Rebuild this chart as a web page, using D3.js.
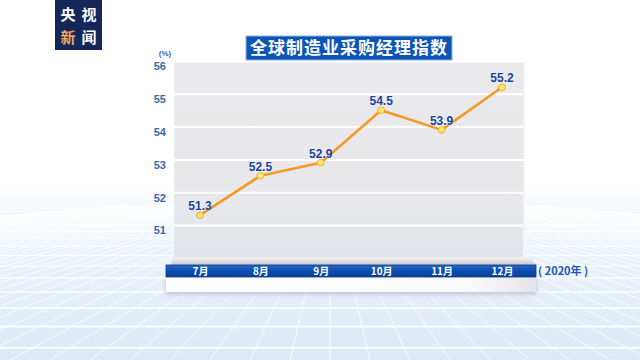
<!DOCTYPE html>
<html>
<head>
<meta charset="utf-8">
<script src="https://cdn.jsdelivr.net/npm/d3@7"></script>
<style>
  body { margin: 0; background: #fff; }
  svg { display: block; }
</style>
</head>
<body>
<div id="chart"></div>
<script>
// Global manufacturing PMI, Jul - Dec 2020
const months = ['7月', '8月', '9月', '10月', '11月', '12月'];
const pmi = [51.3, 52.5, 52.9, 54.5, 53.9, 55.2];
const yTicks = [51, 52, 53, 54, 55, 56];

const W = 640, H = 360;
const cnFont = '"Noto Sans CJK SC", "Noto Sans", sans-serif';
const numFont = '"Liberation Sans", Arial, sans-serif';

const svg = d3.select('#chart').append('svg')
    .attr('width', W)
    .attr('height', H);

const defs = svg.append('defs');

// floor gradient
const floorGrad = defs.append('linearGradient').attr('id', 'floor')
    .attr('x1', 0).attr('y1', 0).attr('x2', 0).attr('y2', 1);
floorGrad.append('stop').attr('offset', '0%').attr('stop-color', '#ffffff');
floorGrad.append('stop').attr('offset', '25%').attr('stop-color', '#eef4fb');
floorGrad.append('stop').attr('offset', '100%').attr('stop-color', '#dde9f6');

// panel gradient
const panelGrad = defs.append('linearGradient').attr('id', 'panel')
    .attr('x1', 0).attr('y1', 0).attr('x2', 0).attr('y2', 1);
panelGrad.append('stop').attr('offset', '0%').attr('stop-color', '#eae9ec');
panelGrad.append('stop').attr('offset', '70%').attr('stop-color', '#e8e8eb');
panelGrad.append('stop').attr('offset', '100%').attr('stop-color', '#dfe4ea');

const slabGrad = defs.append('linearGradient').attr('id', 'slab')
    .attr('x1', 0).attr('y1', 0).attr('x2', 0).attr('y2', 1);
slabGrad.append('stop').attr('offset', '0%').attr('stop-color', '#f4f4f4');
slabGrad.append('stop').attr('offset', '100%').attr('stop-color', '#c9c9cc');

const barGrad = defs.append('linearGradient').attr('id', 'bar')
    .attr('x1', 0).attr('y1', 0).attr('x2', 0).attr('y2', 1);
barGrad.append('stop').attr('offset', '0%').attr('stop-color', '#2466c4');
barGrad.append('stop').attr('offset', '50%').attr('stop-color', '#0b4eb0');
barGrad.append('stop').attr('offset', '100%').attr('stop-color', '#0a4198');

const baseGrad = defs.append('linearGradient').attr('id', 'base')
    .attr('x1', 0).attr('y1', 0).attr('x2', 1).attr('y2', 0);
baseGrad.append('stop').attr('offset', '0%').attr('stop-color', '#ffffff');
baseGrad.append('stop').attr('offset', '80%').attr('stop-color', '#fbfbfc');
baseGrad.append('stop').attr('offset', '100%').attr('stop-color', '#e6e6ea');

const shadow = defs.append('filter').attr('id', 'shadow')
    .attr('x', '-10%').attr('y', '-10%').attr('width', '120%').attr('height', '160%');
shadow.append('feDropShadow').attr('dx', 0).attr('dy', 2).attr('stdDeviation', 2)
    .attr('flood-color', '#8090a0').attr('flood-opacity', 0.5);

// background floor with perspective grid
svg.append('rect').attr('x', 0).attr('y', 180).attr('width', W).attr('height', H - 180)
    .attr('fill', 'url(#floor)');

const floor = svg.append('g').attr('stroke', '#ffffff').attr('fill', 'none');
const horizon = 195, vpX = 330;
for (let i = -50; i <= 50; i++) {
    const xb = vpX + i * 40;
    floor.append('line')
        .attr('x1', vpX + (xb - vpX) * 0.1).attr('y1', horizon + 10)
        .attr('x2', xb).attr('y2', H)
        .attr('stroke-width', 1).attr('stroke-opacity', 0.8);
}
let yy = 208, step = 3;
while (yy < H) {
    floor.append('line').attr('x1', 0).attr('x2', W).attr('y1', yy).attr('y2', yy)
        .attr('stroke-width', 0.8 + (yy - 200) / 110).attr('stroke-opacity', 0.85);
    step *= 1.15;
    yy += step;
}

// scales
const x = d3.scalePoint().domain(months).range([200, 502]);
const y = d3.scaleLinear().domain([51, 56]).range([225, 61]);

const panelL = 174, panelR = 525;
const panelTop = y(56), panelBot = 258;

// panel
svg.append('rect')
    .attr('x', panelL).attr('y', panelTop)
    .attr('width', panelR - panelL).attr('height', panelBot - panelTop)
    .attr('fill', 'url(#panel)');
svg.append('rect')
    .attr('x', panelR - 2).attr('y', panelTop)
    .attr('width', 2).attr('height', panelBot - panelTop)
    .attr('fill', '#f4f4f6');

// grid lines
svg.append('g')
    .attr('transform', `translate(${panelL},0)`)
    .call(d3.axisLeft(y).tickValues(yTicks).tickSize(-(panelR - panelL - 2)).tickFormat(''))
    .call(g => g.select('.domain').remove())
    .call(g => g.selectAll('line').attr('stroke', '#ffffff').attr('stroke-width', 2));

// y axis labels
svg.append('g')
    .attr('transform', `translate(${panelL},0)`)
    .call(d3.axisLeft(y).tickValues(yTicks).tickSize(0).tickPadding(8).tickFormat(d3.format('d')))
    .call(g => g.select('.domain').remove())
    .call(g => g.selectAll('text')
        .attr('dy', '0.8em')
        .attr('fill', '#3b68b0')
        .style('font-family', numFont)
        .style('font-weight', 'bold')
        .style('font-size', '11px'));

svg.append('text')
    .attr('x', 165).attr('y', 56)
    .attr('text-anchor', 'middle')
    .attr('fill', '#3b68b0')
    .style('font-family', numFont)
    .style('font-weight', 'bold')
    .style('font-size', '8px')
    .text('(%)');

// base: grey slab, blue axis bar, white block
svg.append('path')
    .attr('d', `M170,265 L175,257 L530,257 L536,265 Z`)
    .attr('fill', 'url(#slab)');
svg.append('rect')
    .attr('x', 166).attr('y', 277).attr('width', 370).attr('height', 15)
    .attr('fill', 'url(#base)')
    .attr('filter', 'url(#shadow)');
svg.append('rect')
    .attr('x', 166).attr('y', 265).attr('width', 370).attr('height', 12)
    .attr('fill', 'url(#bar)')
    .attr('stroke', '#0a3a86').attr('stroke-width', 0.8);

svg.append('g')
    .attr('transform', 'translate(0,271)')
    .call(d3.axisBottom(x).tickSize(0).tickPadding(0))
    .call(g => g.select('.domain').remove())
    .call(g => g.selectAll('text')
        .attr('dy', '0.35em')
        .attr('fill', '#ffffff')
        .style('font-family', cnFont)
        .style('font-weight', 'bold')
        .style('font-size', '10px'));

svg.append('text')
    .attr('x', 538).attr('y', 275)
    .attr('fill', '#1f5cb0')
    .style('font-family', cnFont)
    .style('font-weight', 'bold')
    .style('font-size', '11px')
    .text('( 2020年 )');

// line
const data = months.map((m, i) => ({ m, v: pmi[i] }));
svg.append('path')
    .datum(data)
    .attr('fill', 'none')
    .attr('stroke', '#f39a22')
    .attr('stroke-width', 2.6)
    .attr('stroke-linejoin', 'round')
    .attr('d', d3.line().x(d => x(d.m)).y(d => y(d.v)));

svg.selectAll('.pt')
    .data(data)
    .enter()
    .append('circle')
    .attr('class', 'pt')
    .attr('cx', d => x(d.m))
    .attr('cy', d => y(d.v))
    .attr('r', 3.4)
    .attr('fill', '#fde86a')
    .attr('stroke', '#e2a62a')
    .attr('stroke-width', 0.8);

svg.selectAll('.lbl')
    .data(data)
    .enter()
    .append('text')
    .attr('class', 'lbl')
    .attr('x', d => x(d.m))
    .attr('y', d => y(d.v) - 5)
    .attr('text-anchor', 'middle')
    .attr('fill', '#1b3f9e')
    .attr('stroke', '#ffffff')
    .attr('stroke-width', 0.6)
    .attr('paint-order', 'stroke')
    .style('font-family', numFont)
    .style('font-weight', 'bold')
    .style('font-size', '12px')
    .text(d => d.v.toFixed(1));

// title
svg.append('rect')
    .attr('x', 246).attr('y', 36).attr('width', 206).attr('height', 24)
    .attr('fill', '#0b55b6')
    .attr('stroke', '#8fb4e6').attr('stroke-width', 1);
svg.append('text')
    .attr('x', 349).attr('y', 54)
    .attr('text-anchor', 'middle')
    .attr('fill', '#ffffff')
    .style('font-family', cnFont)
    .style('font-weight', 'bold')
    .style('font-size', '17px')
    .style('letter-spacing', '1px')
    .text('全球制造业采购经理指数');

// logo
const logo = svg.append('g');
logo.append('rect')
    .attr('x', 55).attr('y', 0).attr('width', 47).attr('height', 50)
    .attr('fill', '#152659');
const logoText = [
    { t: '央', x: 68, y: 20, c: '#ffffff' },
    { t: '视', x: 89, y: 20, c: '#ffffff' },
    { t: '新', x: 68, y: 43, c: '#f5a55a' },
    { t: '闻', x: 89, y: 43, c: '#ffffff' }
];
logo.selectAll('text')
    .data(logoText)
    .enter()
    .append('text')
    .attr('x', d => d.x).attr('y', d => d.y)
    .attr('text-anchor', 'middle')
    .attr('fill', d => d.c)
    .style('font-family', cnFont)
    .style('font-weight', 'bold')
    .style('font-size', '15px')
    .text(d => d.t);
</script>
</body>
</html>
